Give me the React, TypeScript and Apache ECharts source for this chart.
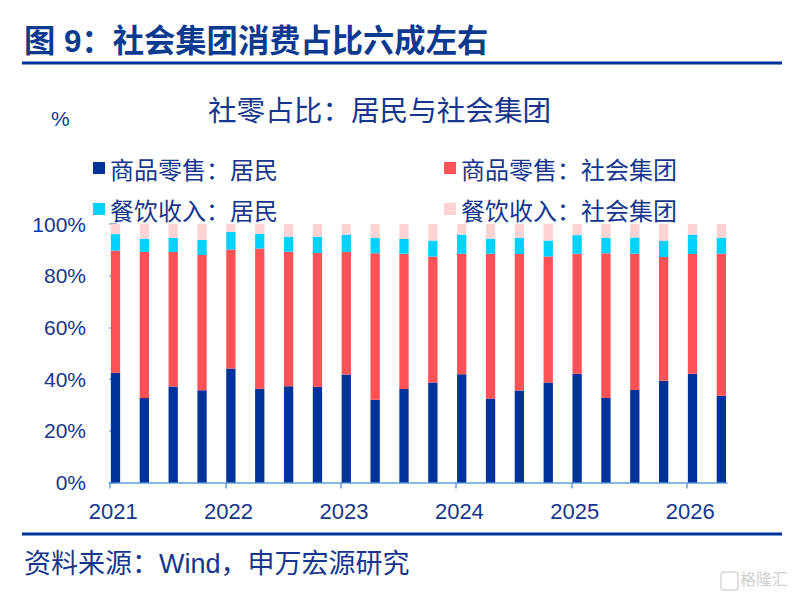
import React, { useEffect, useRef } from "react";
import * as echarts from "echarts";

// ---- data ----
const categories = [
  "2021Q1", "2021Q2", "2021Q3", "2021Q4",
  "2022Q1", "2022Q2", "2022Q3", "2022Q4",
  "2023Q1", "2023Q2", "2023Q3", "2023Q4",
  "2024Q1", "2024Q2", "2024Q3", "2024Q4",
  "2025Q1", "2025Q2", "2025Q3", "2025Q4",
  "2026Q1", "2026Q2",
];
const retailResident = [42.5, 32.7, 37.1, 35.7, 44.1, 36.3, 37.2, 37.0, 41.8, 32.0, 36.2, 38.7, 41.9, 32.5, 35.6, 38.7, 42.1, 32.7, 35.8, 39.4, 42.1, 33.6];
const retailGroup = [47.2, 56.5, 52.1, 52.3, 46.0, 54.2, 52.1, 51.8, 47.4, 56.7, 52.3, 48.7, 46.6, 56.0, 52.8, 48.7, 46.4, 56.0, 52.7, 47.8, 46.3, 54.9];
const cateringResident = [6.4, 5.1, 5.4, 5.9, 6.8, 5.6, 5.8, 6.3, 6.7, 5.9, 5.7, 6.2, 7.4, 5.8, 6.2, 6.2, 7.2, 5.9, 6.3, 6.4, 7.5, 6.1];
const cateringGroup = [3.9, 5.7, 5.4, 6.1, 3.1, 3.9, 4.9, 4.9, 4.1, 5.4, 5.8, 6.4, 4.1, 5.7, 5.4, 6.4, 4.3, 5.4, 5.2, 6.4, 4.1, 5.4];
const yearLabels = ["2021", "2022", "2023", "2024", "2025", "2026"];
const seriesNames = ["商品零售：居民", "商品零售：社会集团", "餐饮收入：居民", "餐饮收入：社会集团"];

const TEXT = "#15368C";
const AXIS = "#5EA0DC";
const FONT = "'Liberation Sans', 'Noto Sans CJK SC', sans-serif";
const CJK = "'Noto Sans CJK SC', 'Liberation Sans', sans-serif";

export default function App() {
  const ref = useRef<HTMLDivElement>(null);
  useEffect(() => {
    if (!ref.current) return;
    const chart = echarts.init(ref.current, null, { renderer: "svg" });
    const tickPos = yearLabels.map((_, k) => 4 * k - 0.19);
    const labelPos = yearLabels.map((_, k) => 4 * k - 0.08);
    const colors = ["#003399", "#FF5257", "#00D2FF", "#FFD3D3"];
    const datas = [retailResident, retailGroup, cateringResident, cateringGroup];
    const legendText = { fontSize: 24, color: TEXT, fontFamily: CJK, lineHeight: 24 };
    chart.setOption({
      animation: false,
      backgroundColor: "#ffffff",
      grid: [
        { left: 101.075, right: 58.225, top: 224, bottom: 113.5 },
        { left: 109, right: 67, top: 224, bottom: 113.5 },
      ],
      legend: [
        {
          data: [seriesNames[0], seriesNames[1]],
          left: 88, top: 151, itemWidth: 12, itemHeight: 12, itemGap: 166,
          icon: "rect", textStyle: legendText, selectedMode: false,
        },
        {
          data: [seriesNames[2], seriesNames[3]],
          left: 88, top: 192, itemWidth: 12, itemHeight: 12, itemGap: 166,
          icon: "rect", textStyle: legendText, selectedMode: false,
        },
      ],
      xAxis: [
        { type: "category", gridIndex: 0, data: categories, show: false },
        {
          type: "value", gridIndex: 1, min: -0.225, max: 21.196,
          axisLine: { show: true, lineStyle: { color: AXIS, width: 1.5 } },
          axisTick: { show: true, length: 6, customValues: tickPos, lineStyle: { color: AXIS, width: 1.5 } },
          axisLabel: {
            customValues: labelPos,
            formatter: (v: number) => yearLabels[Math.round((v + 0.08) / 4)] ?? "",
            fontSize: 22, color: TEXT, fontFamily: FONT, margin: 18,
          },
          splitLine: { show: false },
        },
      ],
      yAxis: [
        { type: "value", gridIndex: 0, min: 0, max: 100, show: false, splitLine: { show: false } },
        {
          type: "value", gridIndex: 1, min: 0, max: 100, interval: 20,
          axisLine: { show: true, lineStyle: { color: AXIS, width: 1.5 } },
          axisTick: { show: true, length: 6, lineStyle: { color: AXIS, width: 1.5 } },
          axisLabel: { formatter: "{value}%", fontSize: 21, color: TEXT, fontFamily: FONT, margin: 23 },
          splitLine: { show: false },
        },
      ],
      series: datas.map((d, i) => ({
        name: seriesNames[i],
        type: "bar",
        stack: "total",
        xAxisIndex: 0,
        yAxisIndex: 0,
        barWidth: 9.3,
        data: d,
        itemStyle: { color: colors[i] },
      })),
      graphic: [
        {
          type: "text", left: 24, top: 26,
          style: { text: "图 9：社会集团消费占比六成左右", fontSize: 31.3, fontWeight: "bold", fill: "#0B3A8F", fontFamily: FONT },
        },
        { type: "line", shape: { x1: 22, y1: 63, x2: 782, y2: 63 }, style: { stroke: "#003399", lineWidth: 3 } },
        {
          type: "text", left: 208, top: 94,
          style: { text: "社零占比：居民与社会集团", fontSize: 28.6, fill: TEXT, fontFamily: CJK },
        },
        {
          type: "text", left: 51, top: 108,
          style: { text: "%", fontSize: 21, fill: TEXT, fontFamily: FONT },
        },
        { type: "line", shape: { x1: 22, y1: 534, x2: 782, y2: 534 }, style: { stroke: "#003399", lineWidth: 3 } },
        {
          type: "text", left: 24, top: 550,
          style: { text: "资料来源：Wind，申万宏源研究", fontSize: 27, fill: TEXT, fontFamily: FONT },
        },
        {
          type: "rect", shape: { x: 721, y: 572, width: 17, height: 18, r: 3 },
          style: { fill: "none", stroke: "#D6D6D6", lineWidth: 1.5 },
        },
        {
          type: "text", left: 740, top: 570,
          style: { text: "格隆汇", fontSize: 16, fill: "#D0D0D0", fontFamily: CJK },
        },
      ],
    });
    return () => chart.dispose();
  }, []);
  return <div ref={ref} style={{ position: "fixed", left: 0, top: 0, width: 794, height: 596 }} />;
}
